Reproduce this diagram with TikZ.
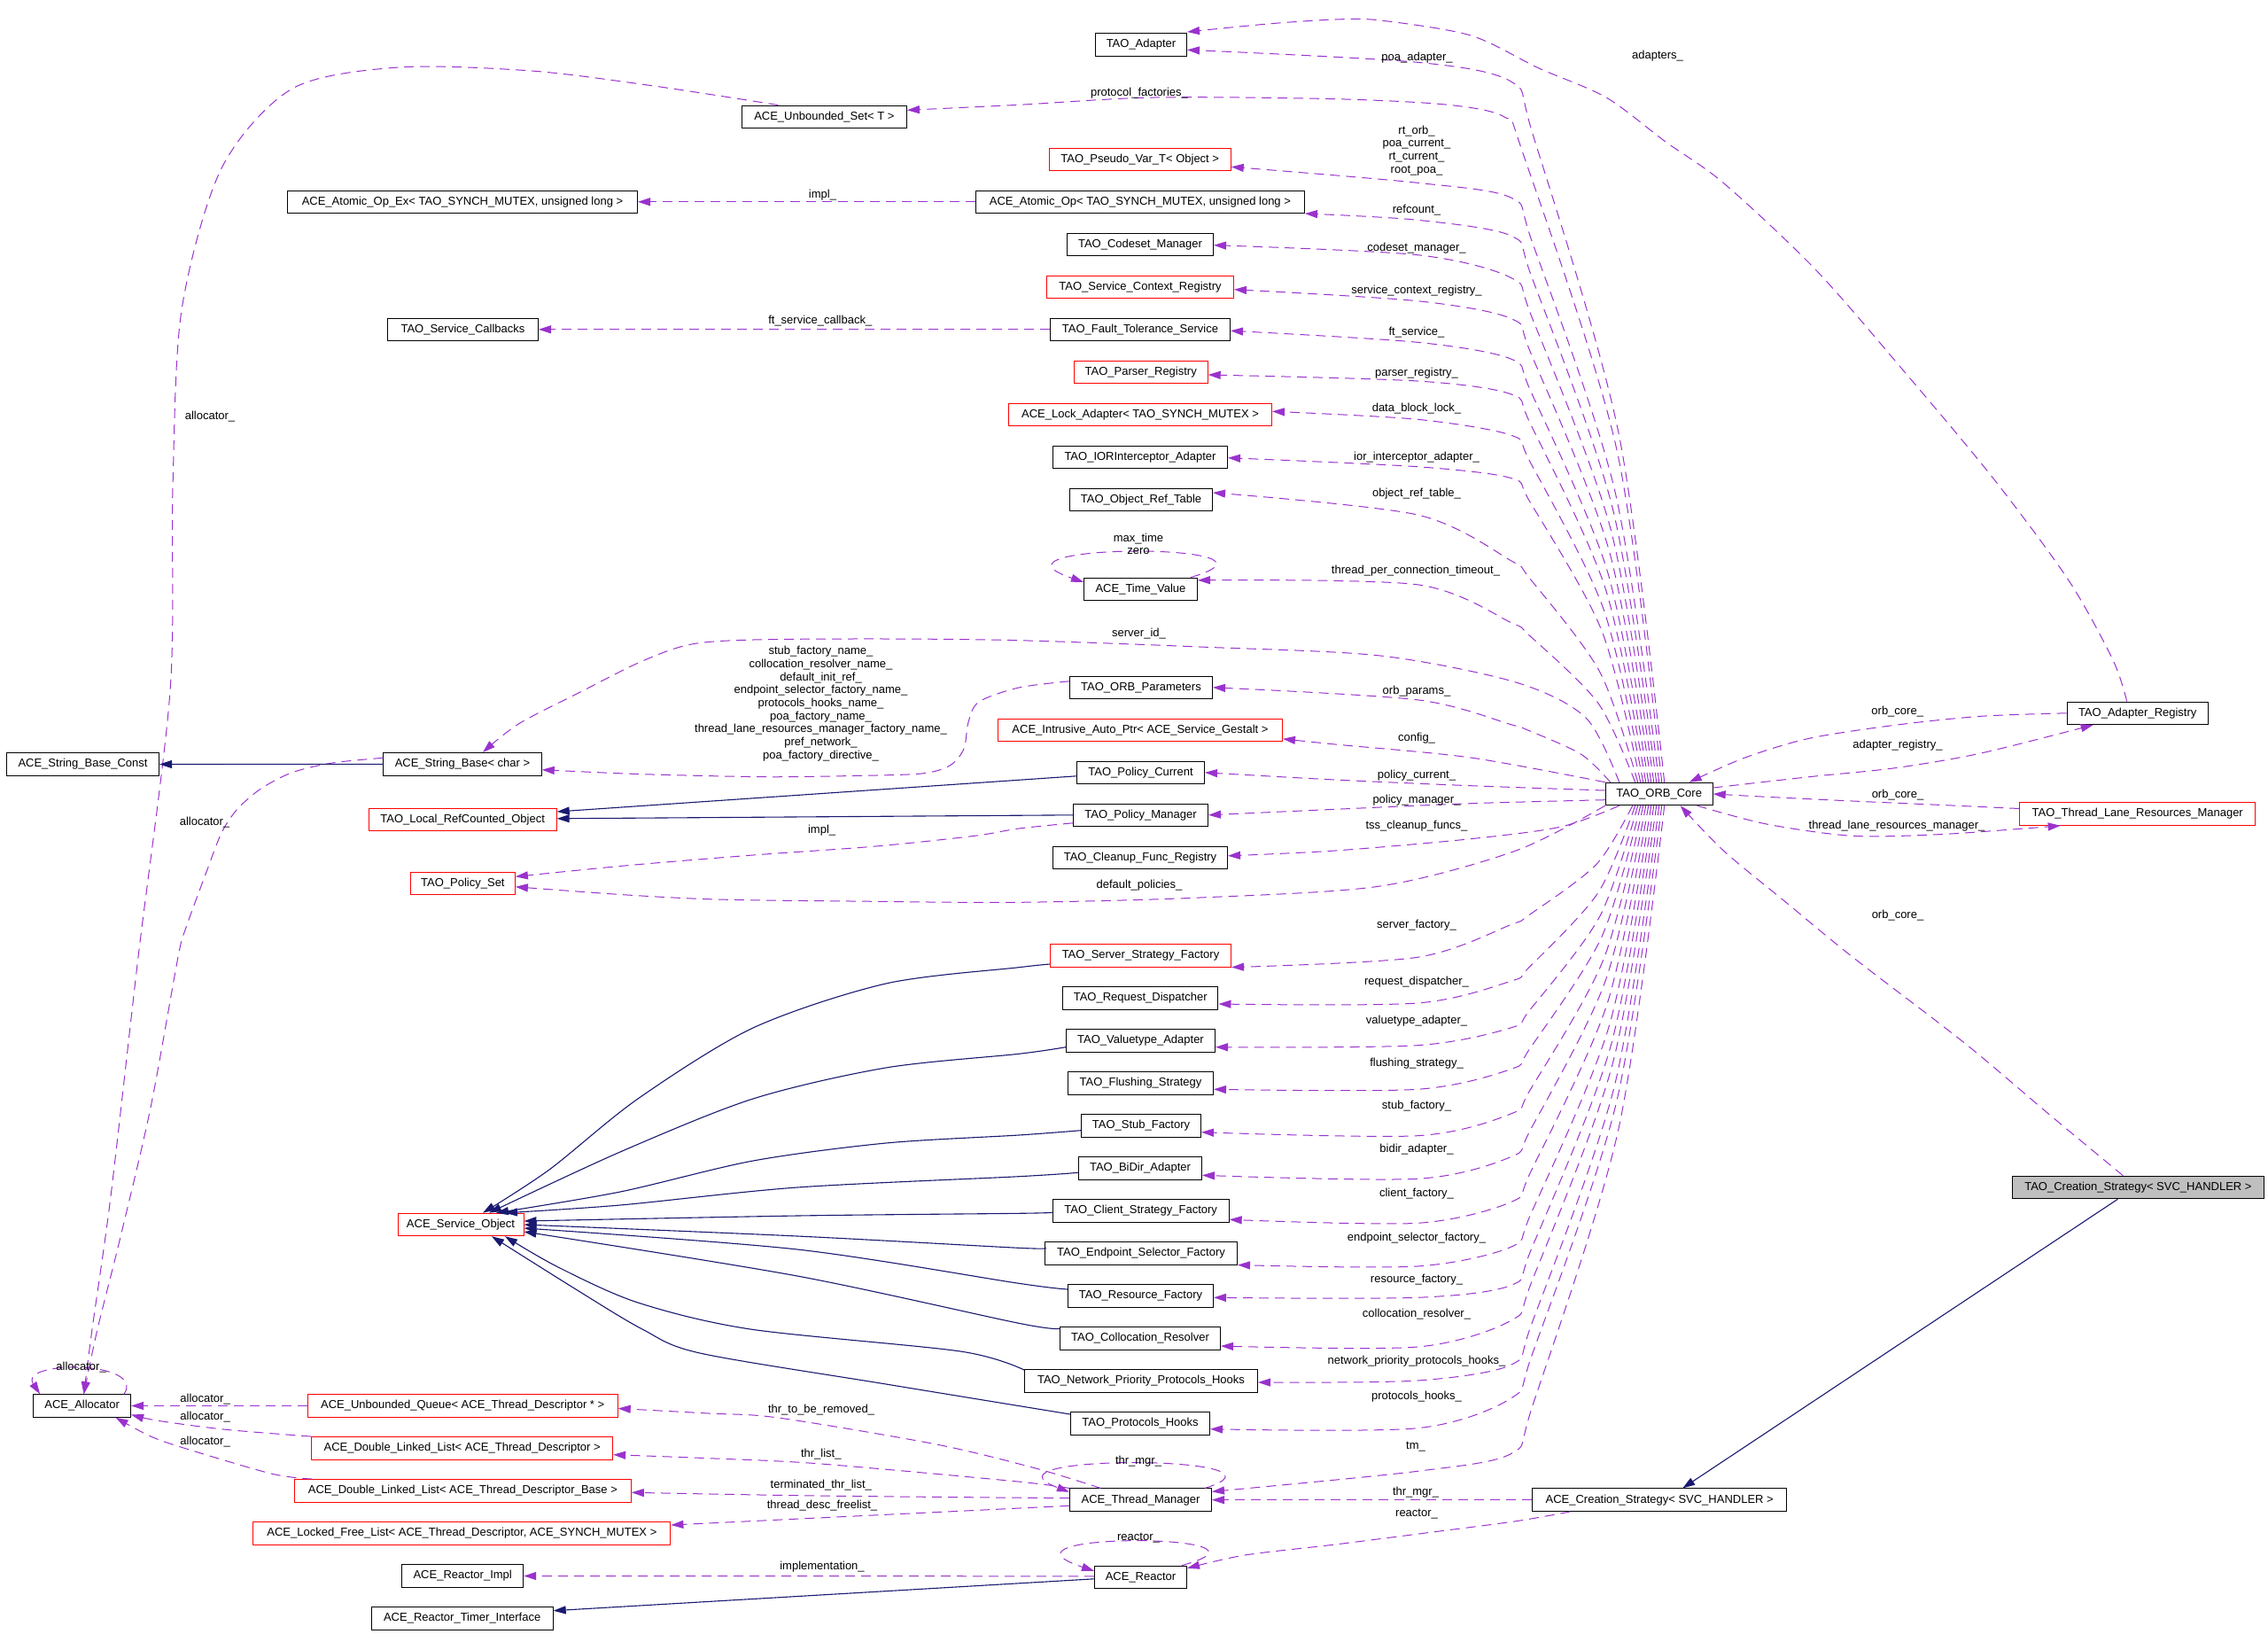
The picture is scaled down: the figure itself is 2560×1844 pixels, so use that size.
\documentclass[tikz,border=0pt]{standalone}
\usepackage{fontspec}
\setmainfont{Liberation Sans}
\usetikzlibrary{arrows.meta}
\definecolor{edgepurple}{HTML}{9A32CD}
\definecolor{inhblue}{HTML}{191970}
\definecolor{nodered}{HTML}{FF0000}
\definecolor{nodegray}{HTML}{BFBFBF}
\newcommand\dfont{\fontsize{13}{14.7}\selectfont}
\newcommand\coreup[5]{\draw[coll] plot[smooth,tension=0.5] coordinates {([xshift=#1pt]orbcore.north) ({1706+0.7*(166.7+(#1))},{(#2+#3+884)/2}) ({1706+0.14*(166.7+(#1))},{#2+#3+0.075*(884-#2-#3)}) (1706,{#2+#3}) (1600,{#2+#4}) #5};}
\newcommand\coredown[5]{\draw[coll] plot[smooth,tension=0.5] coordinates {([xshift=#1pt]orbcore.south) ({1706+0.7*(166.7+(#1))},{(#2-(#3)+908)/2}) ({1706+0.14*(166.7+(#1))},{#2-(#3)-0.075*(#2-(#3)-908)}) (1706,{#2-(#3)}) (1600,{#2-(#4)}) #5};}
\begin{document}
\begin{tikzpicture}[x=1pt,y=-1pt,
  box/.style={draw=black, line width=1pt, minimum height=25.5pt, inner sep=0pt, font=\dfont, text height=9.5pt, text depth=2.7pt},
  redbox/.style={box, draw=nodered},
  graybox/.style={box, fill=nodegray},
  lab/.style={font=\dfont, inner sep=0pt, text height=9.5pt, text depth=2.7pt},
  mlab/.style={font=\dfont, inner sep=0pt, align=center},
  coll/.style={draw=edgepurple, line width=1pt, dash pattern=on 11pt off 7pt, -{Triangle[length=14pt,width=9pt]}},
  inh/.style={draw=inhblue, line width=1.1pt, -{Triangle[length=14pt,width=9pt]}}]
\fill[white] (0,0) rectangle (2560,1844);
\useasboundingbox (0,0) rectangle (2560,1844);
% ---------------- nodes
\node[box,minimum width=103pt] (tadapter) at (1288,50.3) {TAO\_Adapter};
\node[box,minimum width=186pt] (unbset) at (930.4,131.8) {ACE\_Unbounded\_Set< T >};
\node[redbox,minimum width=205pt] (pseudo) at (1286.7,179.8) {TAO\_Pseudo\_Var\_T< Object >};
\node[box,minimum width=395pt] (atomicex) at (522,227.8) {ACE\_Atomic\_Op\_Ex< TAO\_SYNCH\_MUTEX, unsigned long >};
\node[box,minimum width=371pt] (atomic) at (1286.9,227.8) {ACE\_Atomic\_Op< TAO\_SYNCH\_MUTEX, unsigned long >};
\node[box,minimum width=165pt] (codeset) at (1287,275.8) {TAO\_Codeset\_Manager};
\node[redbox,minimum width=211pt] (servctx) at (1287,323.8) {TAO\_Service\_Context\_Registry};
\node[box,minimum width=170pt] (svccb) at (522.5,371.8) {TAO\_Service\_Callbacks};
\node[box,minimum width=203pt] (ftsvc) at (1287,371.8) {TAO\_Fault\_Tolerance\_Service};
\node[redbox,minimum width=151pt] (parser) at (1287.7,419.8) {TAO\_Parser\_Registry};
\node[redbox,minimum width=297pt] (lockad) at (1287,467.8) {ACE\_Lock\_Adapter< TAO\_SYNCH\_MUTEX >};
\node[box,minimum width=197pt] (ior) at (1287,515.8) {TAO\_IORInterceptor\_Adapter};
\node[box,minimum width=161pt] (ort) at (1288,563.8) {TAO\_Object\_Ref\_Table};
\node[box,minimum width=128pt] (timeval) at (1287.5,664.8) {ACE\_Time\_Value};
\node[box,minimum width=161pt] (orbparams) at (1288,775.8) {TAO\_ORB\_Parameters};
\node[redbox,minimum width=321pt] (intrusive) at (1287,823.8) {ACE\_Intrusive\_Auto\_Ptr< ACE\_Service\_Gestalt >};
\node[box,minimum width=144pt] (polcur) at (1287.5,871.8) {TAO\_Policy\_Current};
\node[box,minimum width=152pt] (polmgr) at (1287.5,919.8) {TAO\_Policy\_Manager};
\node[box,minimum width=197pt] (cleanup) at (1287,967.8) {TAO\_Cleanup\_Func\_Registry};
\node[redbox,minimum width=204pt] (ssf) at (1287.5,1078.3) {TAO\_Server\_Strategy\_Factory};
\node[box,minimum width=175.5pt] (reqdisp) at (1287.2,1126.3) {TAO\_Request\_Dispatcher};
\node[box,minimum width=168pt] (valuetype) at (1287.5,1174.3) {TAO\_Valuetype\_Adapter};
\node[box,minimum width=164pt] (flushing) at (1287.5,1222.3) {TAO\_Flushing\_Strategy};
\node[box,minimum width=135pt] (stub) at (1288,1270.3) {TAO\_Stub\_Factory};
\node[box,minimum width=139pt] (bidir) at (1287,1318.3) {TAO\_BiDir\_Adapter};
\node[box,minimum width=199pt] (csf) at (1287.7,1366.3) {TAO\_Client\_Strategy\_Factory};
\node[box,minimum width=217pt] (esf) at (1288,1414.3) {TAO\_Endpoint\_Selector\_Factory};
\node[box,minimum width=164pt] (resf) at (1287.5,1462.3) {TAO\_Resource\_Factory};
\node[box,minimum width=181pt] (colloc) at (1287,1510.3) {TAO\_Collocation\_Resolver};
\node[box,minimum width=263pt] (nph) at (1288,1558.3) {TAO\_Network\_Priority\_Protocols\_Hooks};
\node[box,minimum width=157pt] (ph) at (1287,1606.3) {TAO\_Protocols\_Hooks};
\node[box,minimum width=160pt] (thrmgr) at (1287.5,1692.7) {ACE\_Thread\_Manager};
\node[box,minimum width=104pt] (reactor) at (1287.5,1779.8) {ACE\_Reactor};
\node[box,minimum width=287pt] (acecs) at (1873.2,1692.7) {ACE\_Creation\_Strategy< SVC\_HANDLER >};
\node[graybox,minimum width=284pt] (taocs) at (2413.4,1340) {TAO\_Creation\_Strategy< SVC\_HANDLER >};
\node[box,minimum width=121pt] (orbcore) at (1872.7,896) {TAO\_ORB\_Core};
\node[box,minimum width=159pt] (adreg) at (2412.7,804.8) {TAO\_Adapter\_Registry};
\node[redbox,minimum width=266pt] (tlrm) at (2412.7,918.5) {TAO\_Thread\_Lane\_Resources\_Manager};
\node[box,minimum width=172pt] (sbconst) at (93.5,862.5) {ACE\_String\_Base\_Const};
\node[box,minimum width=178.5pt] (sbchar) at (522,862.3) {ACE\_String\_Base< char >};
\node[redbox,minimum width=212pt] (localrc) at (522.2,924.8) {TAO\_Local\_RefCounted\_Object};
\node[redbox,minimum width=118pt] (polset) at (522.4,996.8) {TAO\_Policy\_Set};
\node[redbox,minimum width=142pt] (svcobj) at (520,1382) {ACE\_Service\_Object};
\node[box,minimum width=110pt] (allocator) at (92.6,1586.5) {ACE\_Allocator};
\node[redbox,minimum width=350pt] (ubq) at (522.2,1586.5) {ACE\_Unbounded\_Queue< ACE\_Thread\_Descriptor * >};
\node[redbox,minimum width=340pt] (dll1) at (521.7,1634.3) {ACE\_Double\_Linked\_List< ACE\_Thread\_Descriptor >};
\node[redbox,minimum width=380pt] (dll2) at (522.4,1682.3) {ACE\_Double\_Linked\_List< ACE\_Thread\_Descriptor\_Base >};
\node[redbox,minimum width=471pt] (lfl) at (521.4,1730.5) {ACE\_Locked\_Free\_List< ACE\_Thread\_Descriptor, ACE\_SYNCH\_MUTEX >};
\node[box,minimum width=137pt] (rimpl) at (522.2,1778.5) {ACE\_Reactor\_Impl};
\node[box,minimum width=205pt] (rti) at (521.7,1826.5) {ACE\_Reactor\_Timer\_Interface};
% ---------------- ORB core -> upper members
\coreup{6}{56.3}{36}{14}{([yshift=-6pt]tadapter.east)}
\draw[coll] plot[smooth,tension=0.5] coordinates {([xshift=3pt]orbcore.north) (1824.8,507) (1718,170) (1698,132) (1634.7,118.3) (1507,111.7) (1303,110) (1150,118.3) ([yshift=7.5pt]unbset.east)};
\coreup{0}{188.3}{35}{18}{([yshift=-8.5pt]pseudo.east)}
\coreup{-3}{240.3}{26}{8}{(atomic.south east)}
\coreup{-6}{276.7}{37}{11}{([yshift=-0.9pt]codeset.east)}
\coreup{-9}{326.7}{33}{13}{([yshift=-2.9pt]servctx.east)}
\coreup{-12}{373.3}{32}{13}{([yshift=-1.5pt]ftsvc.east)}
\coreup{-15}{423}{22}{7}{([yshift=-3.2pt]parser.east)}
\coreup{-18}{464.3}{27}{9}{([yshift=3.5pt]lockad.east)}
\coreup{-21}{516.7}{23}{10}{([yshift=-0.9pt]ior.east)}
\coreup{-24}{556}{77}{25}{([yshift=7.8pt]ort.east)}
\coreup{-27}{654.8}{48}{5}{([yshift=10pt]timeval.east)}
\coreup{-55}{775.8}{42}{14}{(orbparams.east)}
\draw[coll] plot[smooth,tension=0.5] coordinates {([xshift=-45pt]orbcore.north) (1790,810) (1711,770) (1558,740) (1354,730) (1150,722.7) (1000,721) (850,722) (779,727.3) (723.5,746.7) (657,780) (585.7,816.7) ([xshift=23pt]sbchar.north)};
\draw[coll] plot[smooth,tension=0.5] coordinates {(orbcore.north west) (1660,855) (1507,840) ([yshift=-10pt]intrusive.east)};
\draw[coll] plot[smooth,tension=0.5] coordinates {([yshift=4pt]orbcore.west) (1660,886.7) (1507,880) (polcur.east)};
\draw[coll] plot[smooth,tension=0.5] coordinates {([yshift=-6.7pt]orbcore.west) (1660,906.7) (1507,913.3) (polmgr.east)};
\draw[coll] plot[smooth,tension=0.5] coordinates {([xshift=16pt]orbcore.south west) (1762,933) (1660,946.7) (1507,960) ([yshift=2pt]cleanup.east)};
\draw[coll] plot[smooth,tension=0.5] coordinates {(orbcore.south west) (1711,960) (1558,1000) (1354,1013) (1150,1018.3) (960,1017) (810,1015) (708,1010) ([yshift=-4pt]polset.east)};
% ---------------- ORB core -> lower members
\coredown{-30}{1091.3}{48}{11}{(ssf.south east)}
\coredown{-27}{1133}{26}{1}{([yshift=-6.7pt]reqdisp.east)}
\coredown{-24}{1181.7}{22}{2}{([yshift=-7.4pt]valuetype.east)}
\coredown{-21}{1229.3}{23}{0}{([yshift=-7pt]flushing.east)}
\coredown{-18}{1277.7}{21}{-4}{([yshift=-7.4pt]stub.east)}
\coredown{-15}{1326.3}{21}{-4}{([yshift=-8pt]bidir.east)}
\coredown{-12}{1376.3}{20}{-4}{([yshift=-10pt]csf.east)}
\coredown{-9}{1427}{20}{-2}{(esf.south east)}
\coredown{-6}{1464.3}{14}{0}{([yshift=-2pt]resf.east)}
\coredown{-3}{1519}{29}{-1}{([yshift=-8.7pt]colloc.east)}
\coredown{0}{1560}{20}{2}{([yshift=-1.7pt]nph.east)}
\coredown{3}{1612.7}{35}{1}{([yshift=-6.4pt]ph.east)}
\coredown{6}{1683.3}{43}{23}{([yshift=9.4pt]thrmgr.east)}
% ---------------- right side
\draw[coll] plot[smooth,tension=0.5] coordinates {([xshift=-12pt]adreg.north) (2385,745) (2335,655) (2250,540) (2150,420) (2050,305) (1946,207) (1880,160) (1813,110) (1737,77) (1660,40) (1558,23) (1507,22) (1431,27) ([yshift=1pt]tadapter.north east)};
\draw[coll] plot[smooth,tension=0.5] coordinates {(adreg.west) (2236,808.3) (2139,818.3) (2042,833.3) (1969.7,855) ([xshift=34pt]orbcore.north)};
\draw[coll] plot[smooth,tension=0.5] coordinates {([yshift=7pt]orbcore.east) (2042,876.7) (2139,866.7) (2236,850) ([xshift=-50pt]adreg.south)};
\draw[coll] plot[smooth,tension=0.5] coordinates {([yshift=6pt]tlrm.west) (2187.8,908.3) (2090.8,904) (1994,899.3) (orbcore.east)};
\draw[coll] plot[smooth,tension=0.5] coordinates {([xshift=43pt]orbcore.south) (1994,930) (2090.8,943.3) (2187.8,941.7) (2284.7,935) ([xshift=-87pt]tlrm.south)};
\draw[coll] plot[smooth,tension=0.5] coordinates {([xshift=-17pt]taocs.north) (2313.8,1258.3) (2217,1176.7) (2091,1080) (2018,1020) (1945.4,960) ([xshift=24pt]orbcore.south)};
% ---------------- other collaborations
\draw[coll] (atomic.west) -- (atomicex.east);
\draw[coll] (ftsvc.west) -- (svccb.east);
\draw[coll] ([xshift=-8pt]timeval.north east) .. controls (1480,612) and (1090,612) .. ([yshift=8pt]timeval.west);
\draw[coll] plot[smooth,tension=0.5] coordinates {([yshift=7pt]orbparams.west) (1150,776) (1105,792) (1093,815) (1088,845) (1072,864) (1040,873) (963,875.5) (861,876.7) (720,873.5) ([yshift=-6.4pt]sbchar.east)};
\draw[coll] plot[smooth,tension=0.5] coordinates {([yshift=-9pt]polmgr.west) (1150,935) (1100,943.3) (989,955) (850,965) (708,976.7) ([yshift=7.5pt]polset.east)};
\draw[coll] (acecs.west) -- (thrmgr.east);
\draw[coll] plot[smooth,tension=0.5] coordinates {([xshift=-101pt]acecs.south) (1711,1716.7) (1609,1730) (1507,1743) (1405,1755) ([yshift=10pt]reactor.east)};
\draw[coll] ([xshift=-8pt]thrmgr.north east) .. controls (1480,1642) and (1090,1640) .. ([yshift=9pt]thrmgr.west);
\draw[coll] ([xshift=-6pt]reactor.north east) .. controls (1470,1730) and (1100,1728) .. ([yshift=7pt]reactor.west);
\draw[coll] ([yshift=1pt]reactor.west) -- (rimpl.east);
\draw[coll] plot[smooth,tension=0.5] coordinates {([xshift=-45pt]thrmgr.north) (1169,1657) (1057,1630) (878.6,1600) (800,1595) ([yshift=-3pt]ubq.east)};
\draw[coll] plot[smooth,tension=0.5] coordinates {(thrmgr.north west) (1146,1671.7) (923,1651.7) (800,1645.7) ([yshift=-7.4pt]dll1.east)};
\draw[coll] plot[smooth,tension=0.5] coordinates {([yshift=2pt]thrmgr.west) (923,1688) ([yshift=-2pt]dll2.east)};
\draw[coll] plot[smooth,tension=0.5] coordinates {([yshift=-6.6pt]thrmgr.west) (923,1713) ([yshift=9.5pt]lfl.east)};
% allocator
\draw[coll] (ubq.west) -- (allocator.east);
\draw[coll] plot[smooth,tension=0.5] coordinates {(dll1.north west) (255,1613.3) (178.6,1603.3) ([yshift=-10pt]allocator.east)};
\draw[coll] plot[smooth,tension=0.5] coordinates {([xshift=-170pt]dll2.north) (306,1663) (204,1633) (168,1620) ([xshift=38pt]allocator.south)};
\draw[coll] ([xshift=-8pt]allocator.north east) .. controls (165,1535) and (20,1535) .. ([xshift=8pt]allocator.north west);
\draw[coll] plot[smooth,tension=0.5] coordinates {([yshift=7pt]sbchar.west) (375,861) (330,871.7) (294.6,890) (268,913) (250,940) (232,986.7) (210,1046.7) (201,1080) (170,1250) (135,1400) (110,1500) ([xshift=2pt]allocator.north)};
\draw[coll] plot[smooth,tension=0.5] coordinates {([xshift=-52pt]unbset.north) (738,97) (600,80) (450,76) (330,100) (250,190) (205,350) (195,550) (192,780) (156,1080) (125,1350) (104,1500) ([xshift=2pt]allocator.north)};
% ---------------- inheritance
\draw[inh] (sbchar.west) -- (sbconst.east);
\draw[inh] ([yshift=-4pt]polcur.west) -- ([yshift=8.8pt]localrc.east);
\draw[inh] (polmgr.west) -- ([yshift=1pt]localrc.east);
\draw[inh] ([yshift=-2pt]reactor.west) -- ([yshift=8.8pt]rti.east);
\draw[inh] ([xshift=-23pt]taocs.south) -- ([xshift=26pt]acecs.north);
\draw[inh] plot[smooth,tension=0.5] coordinates {([yshift=-9.7pt]ssf.west) (1150,1091.7) (1000,1110) (850,1160) (720,1240) (620,1320) ([xshift=25pt]svcobj.north)};
\draw[inh] plot[smooth,tension=0.5] coordinates {([yshift=-7.4pt]valuetype.west) (1150,1189.3) (1000,1205) (850,1240) (700,1300) ([xshift=32pt]svcobj.north)};
\draw[inh] plot[smooth,tension=0.5] coordinates {([yshift=-5.4pt]stub.west) (1150,1281) (1000,1290) (850,1310) (700,1345) ([xshift=40pt]svcobj.north)};
\draw[inh] plot[smooth,tension=0.5] coordinates {([yshift=-5pt]bidir.west) (1150,1327.7) (900,1340) (700,1360) ([xshift=50pt]svcobj.north)};
\draw[inh] plot[smooth,tension=0.5] coordinates {([yshift=-2pt]csf.west) (1150,1369.3) (900,1372) ([yshift=4pt]svcobj.east)};
\draw[inh] plot[smooth,tension=0.5] coordinates {([yshift=6pt]esf.west) (1150,1408.3) (900,1395) (svcobj.east)};
\draw[inh] plot[smooth,tension=0.5] coordinates {([yshift=7.3pt]resf.west) (1150,1448.3) (900,1410) ([yshift=-4pt]svcobj.east)};
\draw[inh] plot[smooth,tension=0.5] coordinates {([yshift=11pt]colloc.west) (1150,1493.3) (900,1440) ([yshift=-8pt]svcobj.east)};
\draw[inh] plot[smooth,tension=0.5] coordinates {([yshift=12.3pt]nph.west) (1084,1525) (847,1500) (720,1470) (630,1430) ([xshift=50pt]svcobj.south)};
\draw[inh] plot[smooth,tension=0.5] coordinates {([yshift=10.3pt]ph.west) (1000,1562) (790,1527) (725,1500) (650,1455) ([xshift=35pt]svcobj.south)};
% ---------------- labels
\node[lab] at (1599.5,65) {poa\_adapter\_};
\node[lab] at (1871,63) {adapters\_};
\node[lab] at (1286,105) {protocol\_factories\_};
\node[mlab] at (1599,169.9) {rt\_orb\_\\poa\_current\_\\rt\_current\_\\root\_poa\_};
\node[lab] at (928.5,220) {impl\_};
\node[lab] at (1599,236.7) {refcount\_};
\node[lab] at (1599,280) {codeset\_manager\_};
\node[lab] at (1599,328.3) {service\_context\_registry\_};
\node[lab] at (925.8,362.5) {ft\_service\_callback\_};
\node[lab] at (1599,374.7) {ft\_service\_};
\node[lab] at (1599,421) {parser\_registry\_};
\node[lab] at (1599,460.7) {data\_block\_lock\_};
\node[lab] at (1599,516) {ior\_interceptor\_adapter\_};
\node[lab] at (1599,556.7) {object\_ref\_table\_};
\node[mlab] at (1285,613.7) {max\_time\\zero};
\node[lab] at (1598,644) {thread\_per\_connection\_timeout\_};
\node[lab] at (1285.5,714.7) {server\_id\_};
\node[mlab] at (926.5,794.2) {stub\_factory\_name\_\\collocation\_resolver\_name\_\\default\_init\_ref\_\\endpoint\_selector\_factory\_name\_\\protocols\_hooks\_name\_\\poa\_factory\_name\_\\thread\_lane\_resources\_manager\_factory\_name\_\\pref\_network\_\\poa\_factory\_directive\_};
\node[lab] at (1599,780) {orb\_params\_};
\node[lab] at (1599,833.3) {config\_};
\node[lab] at (1599,875) {policy\_current\_};
\node[lab] at (1599,903.3) {policy\_manager\_};
\node[lab] at (1599,931.7) {tss\_cleanup\_funcs\_};
\node[lab] at (927.6,936.7) {impl\_};
\node[lab] at (231,928.3) {allocator\_};
\node[lab] at (237,470) {allocator\_};
\node[lab] at (1286,998.7) {default\_policies\_};
\node[lab] at (1599,1044) {server\_factory\_};
\node[lab] at (1599,1107.7) {request\_dispatcher\_};
\node[lab] at (1599,1151.7) {valuetype\_adapter\_};
\node[lab] at (1599,1200) {flushing\_strategy\_};
\node[lab] at (1599,1247.7) {stub\_factory\_};
\node[lab] at (1599,1296.7) {bidir\_adapter\_};
\node[lab] at (1599,1346.7) {client\_factory\_};
\node[lab] at (1599,1396.7) {endpoint\_selector\_factory\_};
\node[lab] at (1599,1444) {resource\_factory\_};
\node[lab] at (1599,1482.7) {collocation\_resolver\_};
\node[lab] at (1599,1536) {network\_priority\_protocols\_hooks\_};
\node[lab] at (1599,1576) {protocols\_hooks\_};
\node[lab] at (1598,1631.7) {tm\_};
\node[lab] at (1285,1649) {thr\_mgr\_};
\node[lab] at (1598,1684) {thr\_mgr\_};
\node[lab] at (1599,1707.7) {reactor\_};
\node[lab] at (1285,1735) {reactor\_};
\node[lab] at (927,1590.7) {thr\_to\_be\_removed\_};
\node[lab] at (926.8,1640.7) {thr\_list\_};
\node[lab] at (926.8,1675.7) {terminated\_thr\_list\_};
\node[lab] at (928,1699) {thread\_desc\_freelist\_};
\node[lab] at (928,1768.3) {implementation\_};
\node[lab] at (91.6,1542.7) {allocator\_};
\node[lab] at (231.6,1579) {allocator\_};
\node[lab] at (231.6,1599) {allocator\_};
\node[lab] at (231.6,1627) {allocator\_};
\node[lab] at (2141.7,803.3) {orb\_core\_};
\node[lab] at (2142,841) {adapter\_registry\_};
\node[lab] at (2142,896.7) {orb\_core\_};
\node[lab] at (2141,932) {thread\_lane\_resources\_manager\_};
\node[lab] at (2142,1033.3) {orb\_core\_};
\end{tikzpicture}
\end{document}
